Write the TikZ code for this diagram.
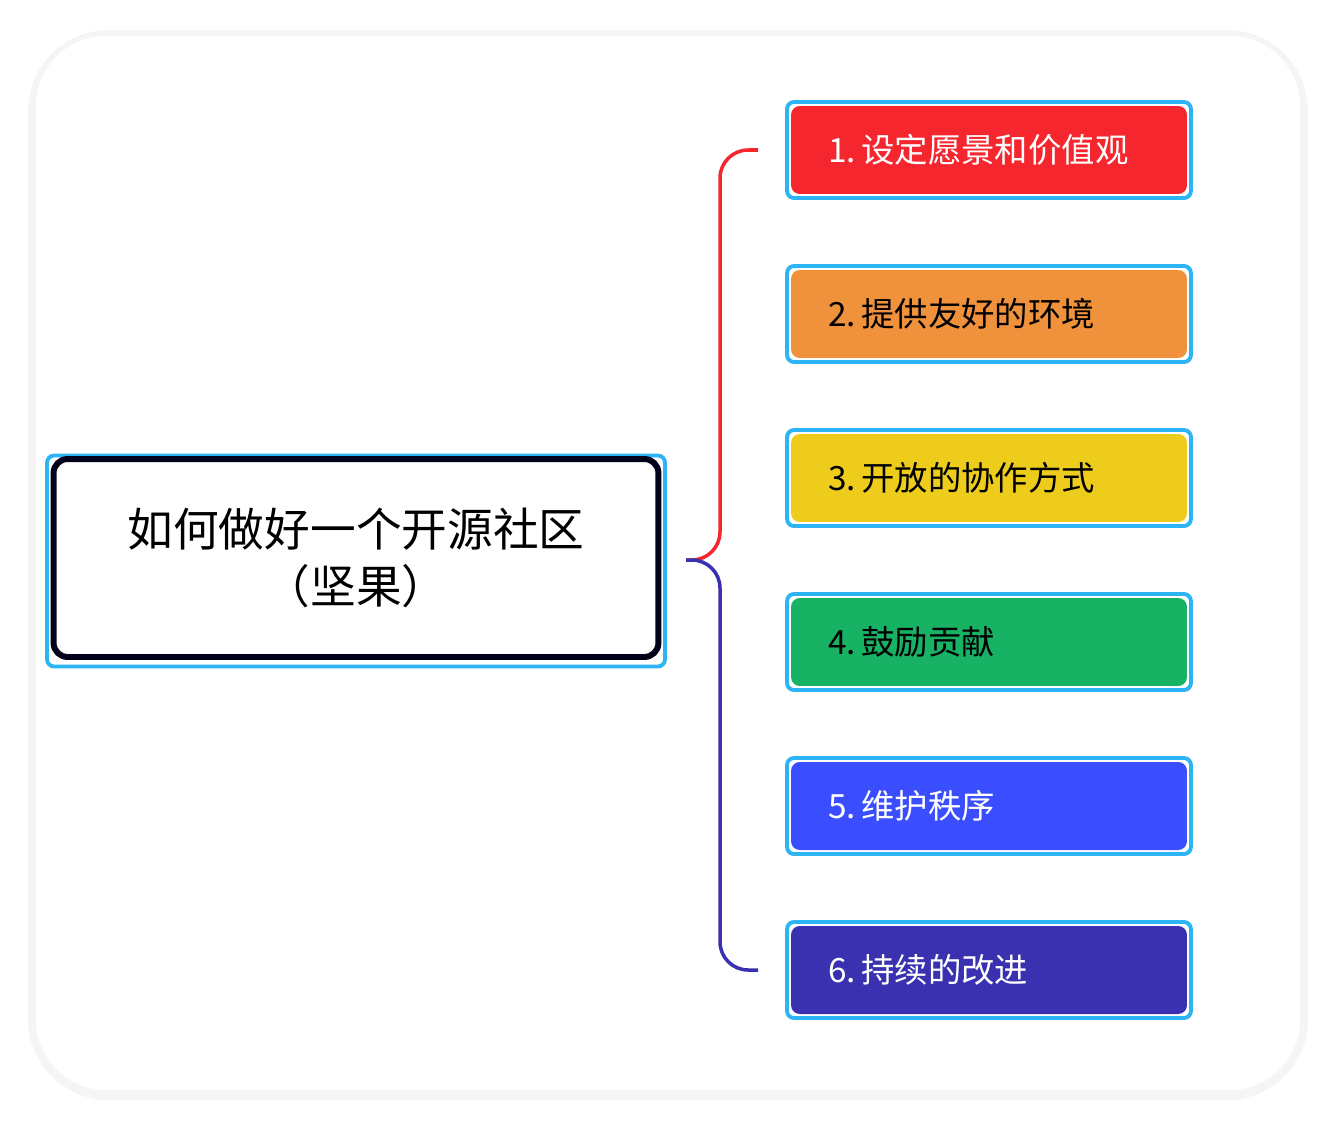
\documentclass[tikz,border=0pt]{standalone}
\usepackage{fontspec}
\setmainfont{Noto Sans CJK SC}
\usetikzlibrary{positioning}
\definecolor{frame}{HTML}{2DB4F5}
\definecolor{cred}{HTML}{F5262E}
\definecolor{corange}{HTML}{F0913C}
\definecolor{cyellow}{HTML}{EECC1C}
\definecolor{cgreen}{HTML}{18B265}
\definecolor{cblue}{HTML}{3A4EFF}
\definecolor{cindigo}{HTML}{3A31B0}
\tikzset{
  topic/.style={draw=frame,line width=2.2pt,rounded corners=4pt,minimum width=8.08cm,minimum height=1.92cm,inner sep=0pt},
  item/.style={rounded corners=5pt,minimum width=7.92cm,minimum height=1.76cm,anchor=center,inner xsep=0pt,
    font=\fontsize{19pt}{22pt}\selectfont,text width=6.44cm,align=left},
  link/.style={line width=2pt,rounded corners=16pt}
}
\begin{document}
\begin{tikzpicture}[x=0.02cm,y=-0.02cm]
  \useasboundingbox (0,0) rectangle (1336,1126);
  \fill[black!4,rounded corners=46] (28,30) rectangle (1308,1100);
  \fill[white,rounded corners=40] (36,36) rectangle (1300,1090);

  % central topic
  \node[draw=frame,line width=2.2pt,rounded corners=4pt,minimum width=12.36cm,minimum height=4.22cm] (root) at (356,561) {};
  \node[draw=black!90!blue,line width=3.4pt,rounded corners=8pt,minimum width=12.1cm,minimum height=3.96cm,
    align=center,font=\fontsize{26pt}{32pt}\selectfont] (title) at (356,558) {如何做好一个开源社区\\（坚果）};

  \coordinate (hub) at (686,560);
  \foreach \n/\y/\c/\t/\txt in {1/150/cred/white/1.\,设定愿景和价值观,
      2/314/corange/black/2.\,提供友好的环境,
      3/478/cyellow/black/3.\,开放的协作方式,
      4/642/cgreen/black/4.\,鼓励贡献,
      5/806/cblue/white/5.\,维护秩序,
      6/970/cindigo/white/6.\,持续的改进}{
    \node[topic] (box\n) at (989,\y) {};
    \node[item,fill=\c,text=\t] (t\n) at (989,\y) {\txt};
    \coordinate (end\n) at (758,\y);
  }

  \draw[link,cred] (hub) -| (720,400) |- (end1);
  \draw[link,cindigo] (hub) -| (720,700) |- (end6);
\end{tikzpicture}
\end{document}
